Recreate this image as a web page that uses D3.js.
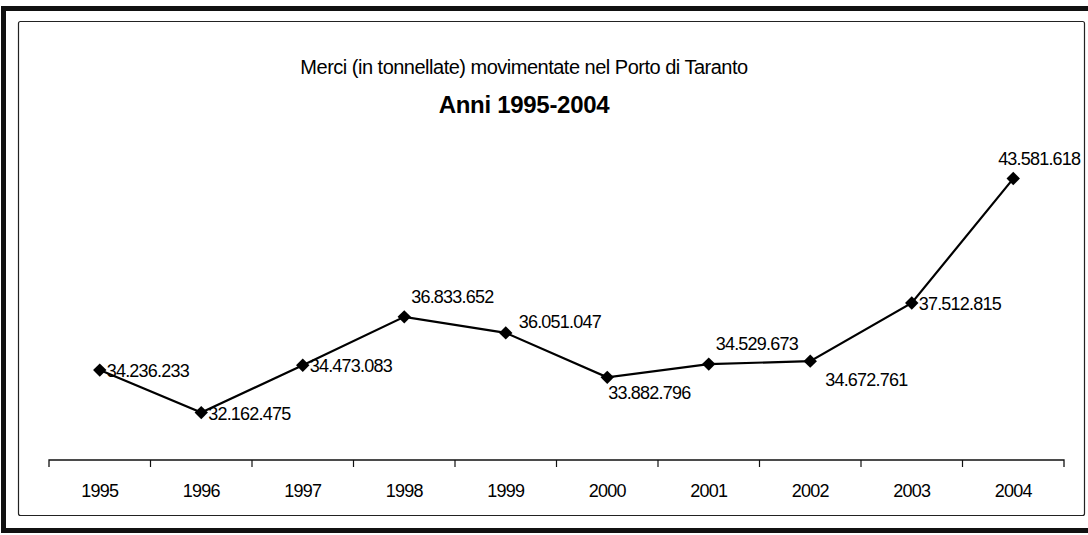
<!DOCTYPE html>
<html>
<head>
<meta charset="utf-8">
<script src="https://cdn.jsdelivr.net/npm/d3@7"></script>
<style>
  body { margin: 0; background: #fff; }
  svg { display: block; font-family: "Liberation Sans", Arial, sans-serif; }
</style>
</head>
<body>
<div id="chart"></div>
<script>
document.addEventListener('DOMContentLoaded', init, false);

var width = 1088;
var height = 535;

var years = ['1995', '1996', '1997', '1998', '1999', '2000', '2001', '2002', '2003', '2004'];
var tonnes = [34236233, 32162475, 34473083, 36833652, 36051047, 33882796, 34529673, 34672761, 37512815, 43581618];
var labelPlace = ['right', 'right', 'right', 'above', 'aboveRight', 'below', 'above', 'belowRight', 'right', 'aboveLeft'];

var titleText = 'Merci (in tonnellate) movimentate nel Porto di Taranto';
var subtitleText = 'Anni 1995-2004';

function init() {

  var svg = d3.select('#chart')
    .append('svg')
      .attr('width', width)
      .attr('height', height);

  drawFrame(svg);

  var scale = {
    x: d3.scaleBand().domain(years).range([49, 1064]).padding(0),
    y: d3.scaleLinear().domain([29850000, 44000000]).range([460, 170])
  };

  drawAxis(svg, scale);
  drawLine(svg, scale);
  drawLabels(svg, scale);
}

function drawFrame(svg) {

  svg.append('rect')
    .attr('x', 3.5)
    .attr('y', 8.5)
    .attr('width', 1090)
    .attr('height', 522)
    .attr('fill', 'none')
    .attr('stroke', '#111')
    .attr('stroke-width', 5);

  svg.append('rect')
    .attr('x', 18.5)
    .attr('y', 21.5)
    .attr('width', 1066)
    .attr('height', 494)
    .attr('rx', 2)
    .attr('fill', 'none')
    .attr('stroke', '#222')
    .attr('stroke-width', 1.2);

  svg.append('text')
    .attr('x', 524)
    .attr('y', 74)
    .attr('text-anchor', 'middle')
    .style('font-size', '20px')
    .style('letter-spacing', '-0.5px')
    .attr('fill', '#000')
    .text(titleText);

  svg.append('text')
    .attr('x', 524)
    .attr('y', 113)
    .attr('text-anchor', 'middle')
    .style('font-size', '24px')
    .style('font-weight', 'bold')
    .style('letter-spacing', '-0.3px')
    .attr('fill', '#000')
    .text(subtitleText);
}

function drawAxis(svg, scale) {

  var axis = d3.axisBottom(scale.x)
    .tickSize(0)
    .tickPadding(24);

  var g = svg.append('g')
    .attr('transform', 'translate(0,460)')
    .call(axis);

  g.select('.domain')
    .attr('stroke', '#111')
    .attr('stroke-width', 1.3)
    .attr('d', 'M49,7V0H1064V7');

  g.selectAll('.tick text')
    .style('font-size', '18px')
    .style('letter-spacing', '-0.8px')
    .attr('fill', '#000');

  // category separators hang below the axis line
  g.selectAll('.sep')
      .data(years.slice(1))
      .enter()
    .append('line')
      .attr('x1', function (d) { return scale.x(d); })
      .attr('x2', function (d) { return scale.x(d); })
      .attr('y1', 0)
      .attr('y2', 7)
      .attr('stroke', '#111')
      .attr('stroke-width', 1.2);
}

function drawLine(svg, scale) {

  var line = d3.line()
    .x(function (d, i) { return scale.x(years[i]) + scale.x.bandwidth() / 2; })
    .y(function (d) { return scale.y(d); });

  svg.append('path')
    .datum(tonnes)
    .attr('fill', 'none')
    .attr('stroke', '#000')
    .attr('stroke-width', 2.2)
    .attr('d', line);

  var marker = d3.symbol().type(d3.symbolSquare).size(90);

  svg.selectAll('.marker')
      .data(tonnes)
      .enter()
    .append('path')
      .attr('transform', function (d, i) {
        return 'translate(' + (scale.x(years[i]) + scale.x.bandwidth() / 2) + ',' + scale.y(d) + ') rotate(45)';
      })
      .attr('d', marker)
      .attr('fill', '#000');
}

function fmt(v) {
  return d3.format(',')(v).replace(/,/g, '.');
}

function drawLabels(svg, scale) {

  var offsets = {
    right: [7, 7, 'start'],
    above: [7, -14, 'start'],
    aboveRight: [13, -5, 'start'],
    aboveLeft: [67, -14, 'end'],
    below: [1, 22, 'start'],
    belowRight: [15, 25, 'start']
  };

  svg.selectAll('.label')
      .data(tonnes)
      .enter()
    .append('text')
      .attr('x', function (d, i) {
        return scale.x(years[i]) + scale.x.bandwidth() / 2 + offsets[labelPlace[i]][0];
      })
      .attr('y', function (d, i) { return scale.y(d) + offsets[labelPlace[i]][1]; })
      .attr('text-anchor', function (d, i) { return offsets[labelPlace[i]][2]; })
      .style('font-size', '18px')
      .style('letter-spacing', '-0.8px')
      .attr('fill', '#000')
      .text(fmt);
}
</script>
</body>
</html>
